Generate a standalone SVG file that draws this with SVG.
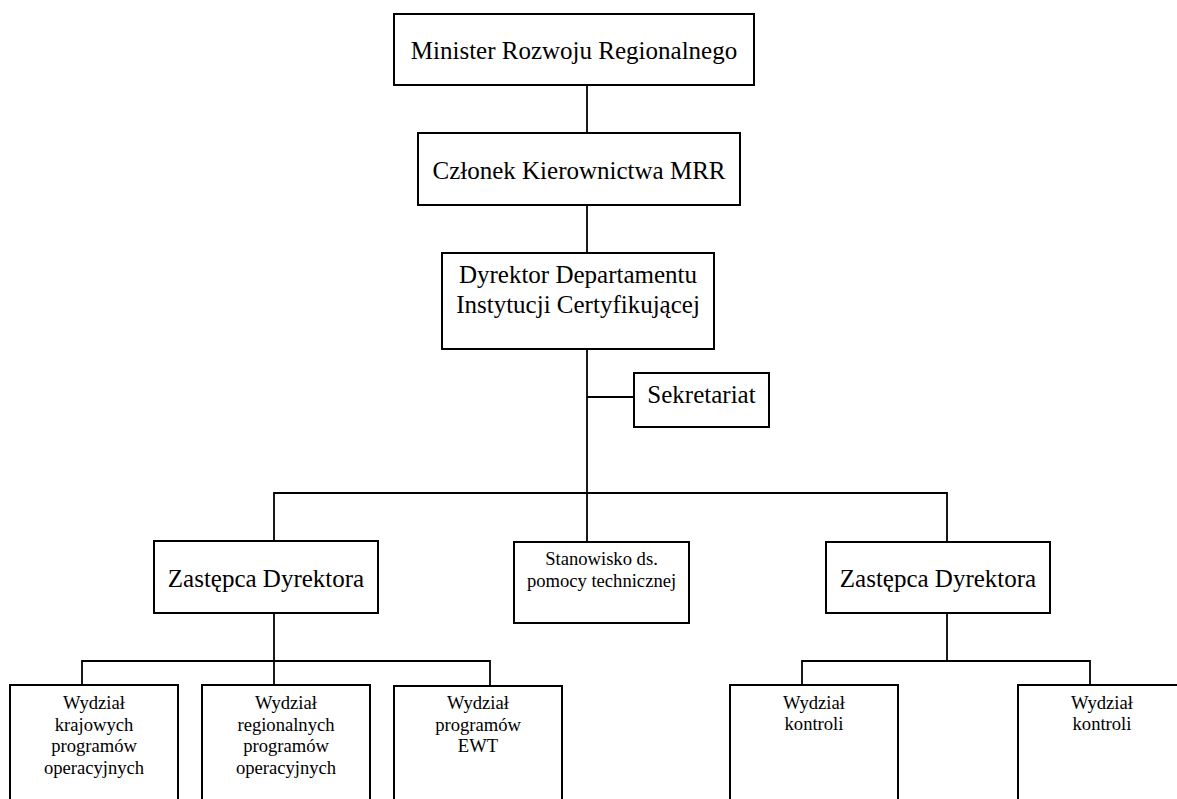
<svg xmlns="http://www.w3.org/2000/svg" width="1177" height="799" viewBox="0 0 1177 799">
<style>
  .box { fill: #ffffff; stroke: #000000; stroke-width: 2; }
  .ln { fill: none; stroke: #000000; stroke-width: 1.8; }
  text { font-family: "Liberation Serif", "Times New Roman", serif; fill: #000000; text-anchor: middle; }
  .big { font-size: 25px; }
  .small { font-size: 18.6px; }
</style>
<rect x="0" y="0" width="1177" height="799" fill="#ffffff"/>
<g id="connectors">
  <line class="ln" x1="587" y1="85" x2="587" y2="133"/>
  <line class="ln" x1="587" y1="205" x2="587" y2="253"/>
  <line class="ln" x1="587" y1="349" x2="587" y2="542"/>
  <line class="ln" x1="587" y1="397" x2="634" y2="397"/>
  <polyline class="ln" points="274,541 274,493 947,493 947,542"/>
  <line class="ln" x1="274" y1="613" x2="274" y2="685"/>
  <polyline class="ln" points="82,685 82,661 490,661 490,686"/>
  <line class="ln" x1="947" y1="613" x2="947" y2="661"/>
  <polyline class="ln" points="802,685 802,661 1090,661 1090,685"/>
</g>
<g id="minister">
  <rect class="box" x="394" y="14" width="360" height="71"/>
  <text class="big" x="574" y="59">Minister Rozwoju Regionalnego</text>
</g>
<g id="czlonek">
  <rect class="box" x="418" y="133" width="322" height="72"/>
  <text class="big" x="579" y="179">Członek Kierownictwa MRR</text>
</g>
<g id="dyrektor">
  <rect class="box" x="442" y="253" width="272" height="96"/>
  <text class="big" x="578" y="283">Dyrektor Departamentu</text>
  <text class="big" x="578" y="313">Instytucji Certyfikującej</text>
</g>
<g id="sekretariat">
  <rect class="box" x="634" y="373" width="135" height="54"/>
  <text class="big" x="701.5" y="403">Sekretariat</text>
</g>
<g id="zastepca-lewy">
  <rect class="box" x="154" y="541" width="224" height="72"/>
  <text class="big" x="266" y="587">Zastępca Dyrektora</text>
</g>
<g id="stanowisko">
  <rect class="box" x="514" y="542" width="175" height="81"/>
  <text class="small" x="601.5" y="565">Stanowisko ds.</text>
  <text class="small" x="601.5" y="587">pomocy technicznej</text>
</g>
<g id="zastepca-prawy">
  <rect class="box" x="826" y="542" width="224" height="71"/>
  <text class="big" x="938" y="587">Zastępca Dyrektora</text>
</g>
<g id="wydzial-krajowych">
  <rect class="box" x="10" y="685" width="168" height="140"/>
  <text class="small" x="94" y="709">Wydział</text>
  <text class="small" x="94" y="731">krajowych</text>
  <text class="small" x="94" y="752">programów</text>
  <text class="small" x="94" y="774">operacyjnych</text>
</g>
<g id="wydzial-regionalnych">
  <rect class="box" x="202" y="685" width="168" height="140"/>
  <text class="small" x="286" y="709">Wydział</text>
  <text class="small" x="286" y="731">regionalnych</text>
  <text class="small" x="286" y="752">programów</text>
  <text class="small" x="286" y="774">operacyjnych</text>
</g>
<g id="wydzial-ewt">
  <rect class="box" x="394" y="686" width="168" height="140"/>
  <text class="small" x="478" y="709">Wydział</text>
  <text class="small" x="478" y="731">programów</text>
  <text class="small" x="478" y="752">EWT</text>
</g>
<g id="wydzial-kontroli-1">
  <rect class="box" x="730" y="685" width="168" height="140"/>
  <text class="small" x="814" y="709">Wydział</text>
  <text class="small" x="814" y="730">kontroli</text>
</g>
<g id="wydzial-kontroli-2">
  <rect class="box" x="1018" y="685" width="168" height="140"/>
  <text class="small" x="1102" y="709">Wydział</text>
  <text class="small" x="1102" y="730">kontroli</text>
</g>
</svg>
